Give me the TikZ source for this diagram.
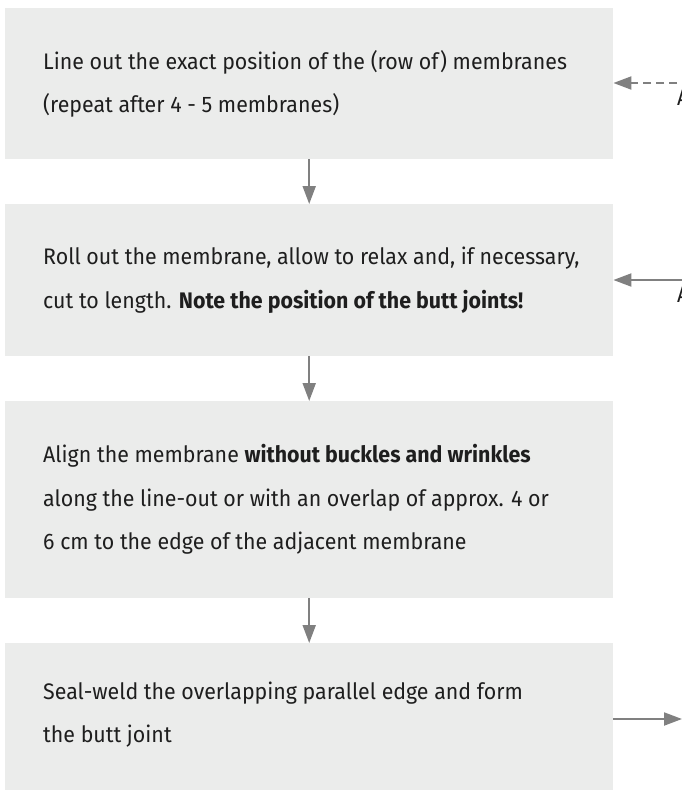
\documentclass[tikz,border=0pt]{standalone}
\usepackage{fontspec}
\setmainfont{Fira Sans}[FakeStretch=0.95]
\usetikzlibrary{arrows.meta}
\definecolor{boxgray}{HTML}{EBECEB}
\definecolor{arrowgray}{HTML}{808080}
\definecolor{textcol}{HTML}{1E1E1E}
\begin{document}
\begin{tikzpicture}[x=1pt,y=-1pt,
  stepbox/.style={fill=boxgray, draw=none, minimum width=608pt, anchor=north west, inner sep=0pt},
  steptext/.style={anchor=west, align=left, inner sep=0pt, text=textcol, font=\fontsize{22.5}{43.5}\selectfont},
  flow/.style={draw=arrowgray, line width=2pt, -{Triangle[length=18pt,width=13pt]}},
  dashflow/.style={flow, dash pattern=on 8pt off 5pt},
  cuttext/.style={anchor=north west, inner sep=0pt, text=textcol, font=\fontsize{22.5}{24}\selectfont}]
\useasboundingbox (0,0) rectangle (682,790);
\node[stepbox, minimum height=151pt] (b1) at (5,8) {};
\node[stepbox, minimum height=152pt] (b2) at (5,204) {};
\node[stepbox, minimum height=197pt] (b3) at (5,401) {};
\node[stepbox, minimum height=147pt] (b4) at (5,643) {};
\node[steptext] (t1) at ([xshift=38pt]b1.west) {Line out the exact position of the (row of) membranes\\(repeat after 4 - 5 membranes)};
\node[steptext] (t2) at ([xshift=38pt]b2.west) {Roll out the membrane, allow to relax and, if necessary,\\cut to length. \textbf{Note the position of the butt joints!}};
\node[steptext] (t3) at ([xshift=38pt]b3.west) {Align the membrane \textbf{without buckles and wrinkles}\\along the line-out or with an overlap of approx. 4 or\\6 cm to the edge of the adjacent membrane};
\node[steptext] (t4) at ([xshift=38pt,yshift=2pt]b4.west) {Seal-weld the overlapping parallel edge and form\\the butt joint};
\draw[flow] (b1.south) -- (b2.north);
\draw[flow] (b2.south) -- (b3.north);
\draw[flow] (b3.south) -- (b4.north);
\coordinate (r1) at (690,83);
\coordinate (r2) at (690,280);
\coordinate (r3) at (682,719);
\draw[dashflow] (r1) -- (b1.east |- r1);
\draw[flow] (r2) -- (b2.east |- r2);
\draw[flow] (b4.east |- r3) -- (r3);
\node[cuttext] (a1) at (677,90) {A};
\node[cuttext] (a2) at (677,287) {A};
\end{tikzpicture}
\end{document}
